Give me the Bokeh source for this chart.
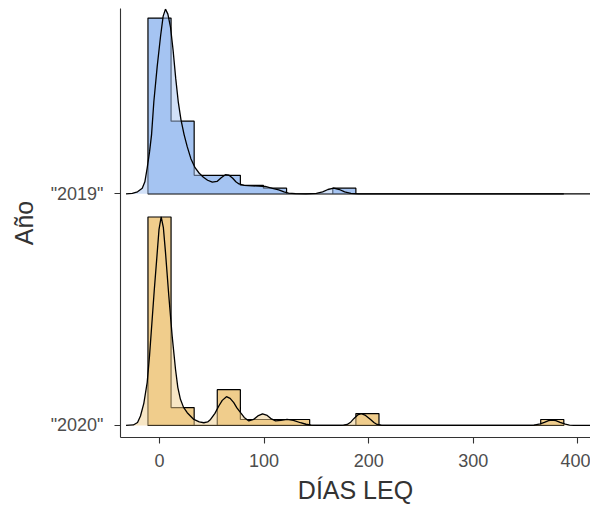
from bokeh.plotting import figure
from bokeh.models import Range1d, FixedTicker
from bokeh.embed import file_html
from bokeh.resources import INLINE

# ---- data ----
years = ['"2019"', '"2020"']          # ridge labels (top, bottom)
year_pos = [1, 0]                      # ridge baseline positions

bin_width = 22.09
bin_centers = [0.0, 22.09, 44.18, 66.27, 88.36, 110.45, 132.54, 154.63, 176.72,
               198.81, 220.9, 242.99, 265.08, 287.17, 309.26, 331.35, 353.44, 375.53]

hist_2019 = [29.5, 12.2, 3.1, 3.1, 1.4, 0.95, 0, 0, 0.95, 0, 0, 0, 0, 0, 0, 0, 0, 0]
hist_2020 = [35, 3, 0, 6, 1, 1, 1, 0, 0, 2, 0, 0, 0, 0, 0, 0, 0, 1]

dens_x_2019 = [-32, -26, -21, -16.5, -14, -11.8, -9.5, -7.6, -5.4, -2.2, 1, 3.5, 5.7,
               8, 10.5, 13, 15.5, 18, 20.5, 23.5, 26.5, 30, 34, 38, 42, 46, 50.5, 55,
               59, 63, 66.5, 70, 73, 76, 81, 88.6, 95, 101, 108, 114, 119, 123.4, 130,
               140, 150, 156, 161, 166.5, 172, 177, 183, 190, 412]
dens_y_2019 = [0, 0.5, 2, 5.6, 12, 25.6, 42, 59, 92, 127, 157, 177, 184,
               179, 166, 143, 115, 91, 74, 59, 47, 35, 26, 20.5, 16.5, 13.5, 11.6, 12.3,
               16, 19, 18.5, 15.5, 12, 9.8, 8.5, 8, 7.6, 7.3, 5.5, 4, 2, 0.6, 0.1,
               0, 0.4, 2, 4.3, 5.6, 4.3, 2, 0.4, 0, 0]

dens_x_2020 = [-32, -25, -21, -18.2, -15, -11.8, -9.5, -7, -5, -2.9, -0.5, 1.6, 3.7,
               5.7, 8.9, 12.1, 15.3, 17.5, 20, 23, 26.5, 32.8, 38, 42.4, 46, 48.8, 53,
               56.7, 60, 64, 67.5, 71, 74, 77.5, 81, 85.4, 90, 94, 98.5, 103, 107, 111,
               116, 122, 128, 134.8, 140, 145, 152, 172, 176, 179.5, 183, 186, 189.5,
               193, 197, 201.8, 205, 208, 212, 218, 352, 358, 364, 368, 372, 375.5,
               379, 383, 388, 392, 396, 412]
dens_y_2020 = [0, 0.5, 3, 9.4, 22, 42.7, 70, 106, 135, 162.7, 195, 207.7, 197,
               172.7, 129, 89, 56, 38, 26, 18, 12.7, 6, 3.5, 2.7, 3.5, 6, 12,
               19.4, 25, 28.7, 27, 22.7, 17.5, 12.7, 8, 4.5, 6, 9.5, 11.5, 10, 6.5, 4.5,
               5, 6, 5, 2.7, 1.2, 0.4, 0, 0, 0.4, 1, 3.5, 7, 10.5,
               11.8, 10, 6, 3, 1, 0.3, 0, 0, 0.3, 1.5, 3, 4.8, 5.4,
               4.8, 3, 1.3, 0.4, 0, 0]

x_ticks = [0, 100, 200, 300, 400]

fill_medium = ["#a5c4f2", "#f0cd8c"]
ridge_scale = 0.9

hists = [hist_2019, hist_2020]
dens_x = [dens_x_2019, dens_x_2020]
dens_y = [dens_y_2019, dens_y_2020]

hmax = max(max(h) for h in hists)
dmax = max(max(d) for d in dens_y)

FONT = "Liberation Sans"

p = figure(width=590, height=506,
           x_range=Range1d(-37.3, 412.1), y_range=Range1d(-0.052, 1.80),
           output_backend="svg", toolbar_location=None,
           min_border_left=120, min_border_right=0, min_border_top=8, min_border_bottom=0)
p.grid.visible = False
p.outline_line_color = None
p.background_fill_color = "white"

for i in range(len(years)):
    base = year_pos[i]
    # histogram as step polygon
    xs, ys = [], []
    for c, h in zip(bin_centers, hists[i]):
        hh = base + h / hmax * ridge_scale
        xs += [c - bin_width / 2, c + bin_width / 2]
        ys += [hh, hh]
    xs = [xs[0]] + xs + [xs[-1]]
    ys = [base] + ys + [base]
    p.patch(xs, ys, fill_color=fill_medium[i], fill_alpha=1.0,
            line_color="black", line_width=1.2)
    # density ridge
    dy = [base + v / dmax * ridge_scale for v in dens_y[i]]
    p.patch(dens_x[i], dy, fill_color=fill_medium[i], fill_alpha=0.5, line_color=None)
    p.line(dens_x[i], dy, line_color="black", line_width=1.3)

for ax in (p.xaxis[0], p.yaxis[0]):
    ax.axis_line_color = "#333333"
    ax.axis_line_width = 1.1
    ax.major_tick_line_color = "#333333"
    ax.major_tick_line_width = 1.1
    ax.major_tick_in = 0
    ax.major_tick_out = 6
    ax.minor_tick_line_color = None
    ax.major_label_text_font = FONT
    ax.major_label_text_font_size = "18px"
    ax.major_label_text_color = "#4d4d4d"
    ax.axis_label_text_font = FONT
    ax.axis_label_text_font_size = "25px"
    ax.axis_label_text_color = "#333333"
    ax.axis_label_text_font_style = "normal"

p.xaxis.ticker = FixedTicker(ticks=x_ticks)
p.xaxis.axis_label = "DÍAS LEQ"
p.xaxis.major_label_standoff = 10
p.xaxis.axis_label_standoff = 6

p.yaxis.ticker = FixedTicker(ticks=year_pos)
p.yaxis.major_label_overrides = {year_pos[i]: years[i] for i in range(len(years))}
p.yaxis.axis_label = "Año"
p.yaxis.major_label_standoff = 11
p.yaxis.axis_label_standoff = 10

open("out.html", "w").write(file_html(p, INLINE))
